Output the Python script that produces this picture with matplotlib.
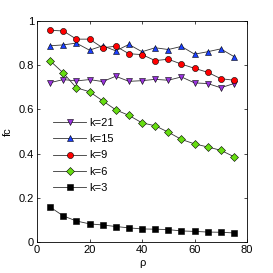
import matplotlib
matplotlib.use('Agg')
import matplotlib.pyplot as plt

plt.rcParams['font.family'] = ['Liberation Sans', 'DejaVu Sans']

# rho values shared by every series
rho = [5, 10, 15, 20, 25, 30, 35, 40, 45, 50, 55, 60, 65, 70, 75]

fc_k21 = [0.721, 0.735, 0.729, 0.735, 0.726, 0.750, 0.727, 0.730,
          0.736, 0.732, 0.747, 0.720, 0.717, 0.698, 0.717]
fc_k15 = [0.888, 0.892, 0.900, 0.868, 0.888, 0.865, 0.894, 0.861,
          0.879, 0.871, 0.885, 0.850, 0.861, 0.874, 0.839]
fc_k9 = [0.958, 0.955, 0.918, 0.918, 0.879, 0.886, 0.852, 0.848,
         0.821, 0.827, 0.805, 0.786, 0.768, 0.739, 0.732]
fc_k6 = [0.820, 0.765, 0.698, 0.680, 0.639, 0.598, 0.573, 0.539,
         0.526, 0.497, 0.464, 0.444, 0.430, 0.415, 0.386]
fc_k3 = [0.158, 0.118, 0.095, 0.082, 0.077, 0.070, 0.064, 0.059,
         0.058, 0.056, 0.050, 0.048, 0.045, 0.044, 0.041]

fig = plt.figure(figsize=(2.73, 2.73), dpi=100)
ax = fig.add_axes([0.1355, 0.1136, 0.7695, 0.8094])

series = [
    (fc_k21, 'v', '#9933dd', 'k=21'),
    (fc_k15, '^', '#1a3fff', 'k=15'),
    (fc_k9, 'o', '#ff0000', 'k=9'),
    (fc_k6, 'D', '#66dd11', 'k=6'),
    (fc_k3, 's', '#000000', 'k=3'),
]
for vals, mk, col, lab in series:
    ms = 3.8 if mk == 'D' else 4.4
    ax.plot(rho, vals, color='#333333', linewidth=0.6, marker=mk,
            markersize=ms, markerfacecolor=col, markeredgecolor='black',
            markeredgewidth=0.4, label=lab)

ax.set_xlim(0, 80)
ax.set_ylim(0, 1)
ax.set_xticks([0, 20, 40, 60, 80])
ax.set_yticks([0, 0.2, 0.4, 0.6, 0.8, 1])
ax.set_yticklabels(['0', '0.2', '0.4', '0.6', '0.8', '1'])
ax.tick_params(direction='in', top=True, right=True, length=2.5,
               width=0.5, labelsize=8, pad=2)
for s in ax.spines.values():
    s.set_linewidth(0.6)

ax.set_xlabel('ρ', fontsize=8, labelpad=2)
ax.set_ylabel('fc', fontsize=8, labelpad=4)

ax.legend(loc='upper left', bbox_to_anchor=(0.055, 0.58), frameon=False,
          fontsize=8, handlelength=3.0, handletextpad=0.3,
          labelspacing=0.55, borderaxespad=0)

fig.savefig('out.png', dpi=100)
